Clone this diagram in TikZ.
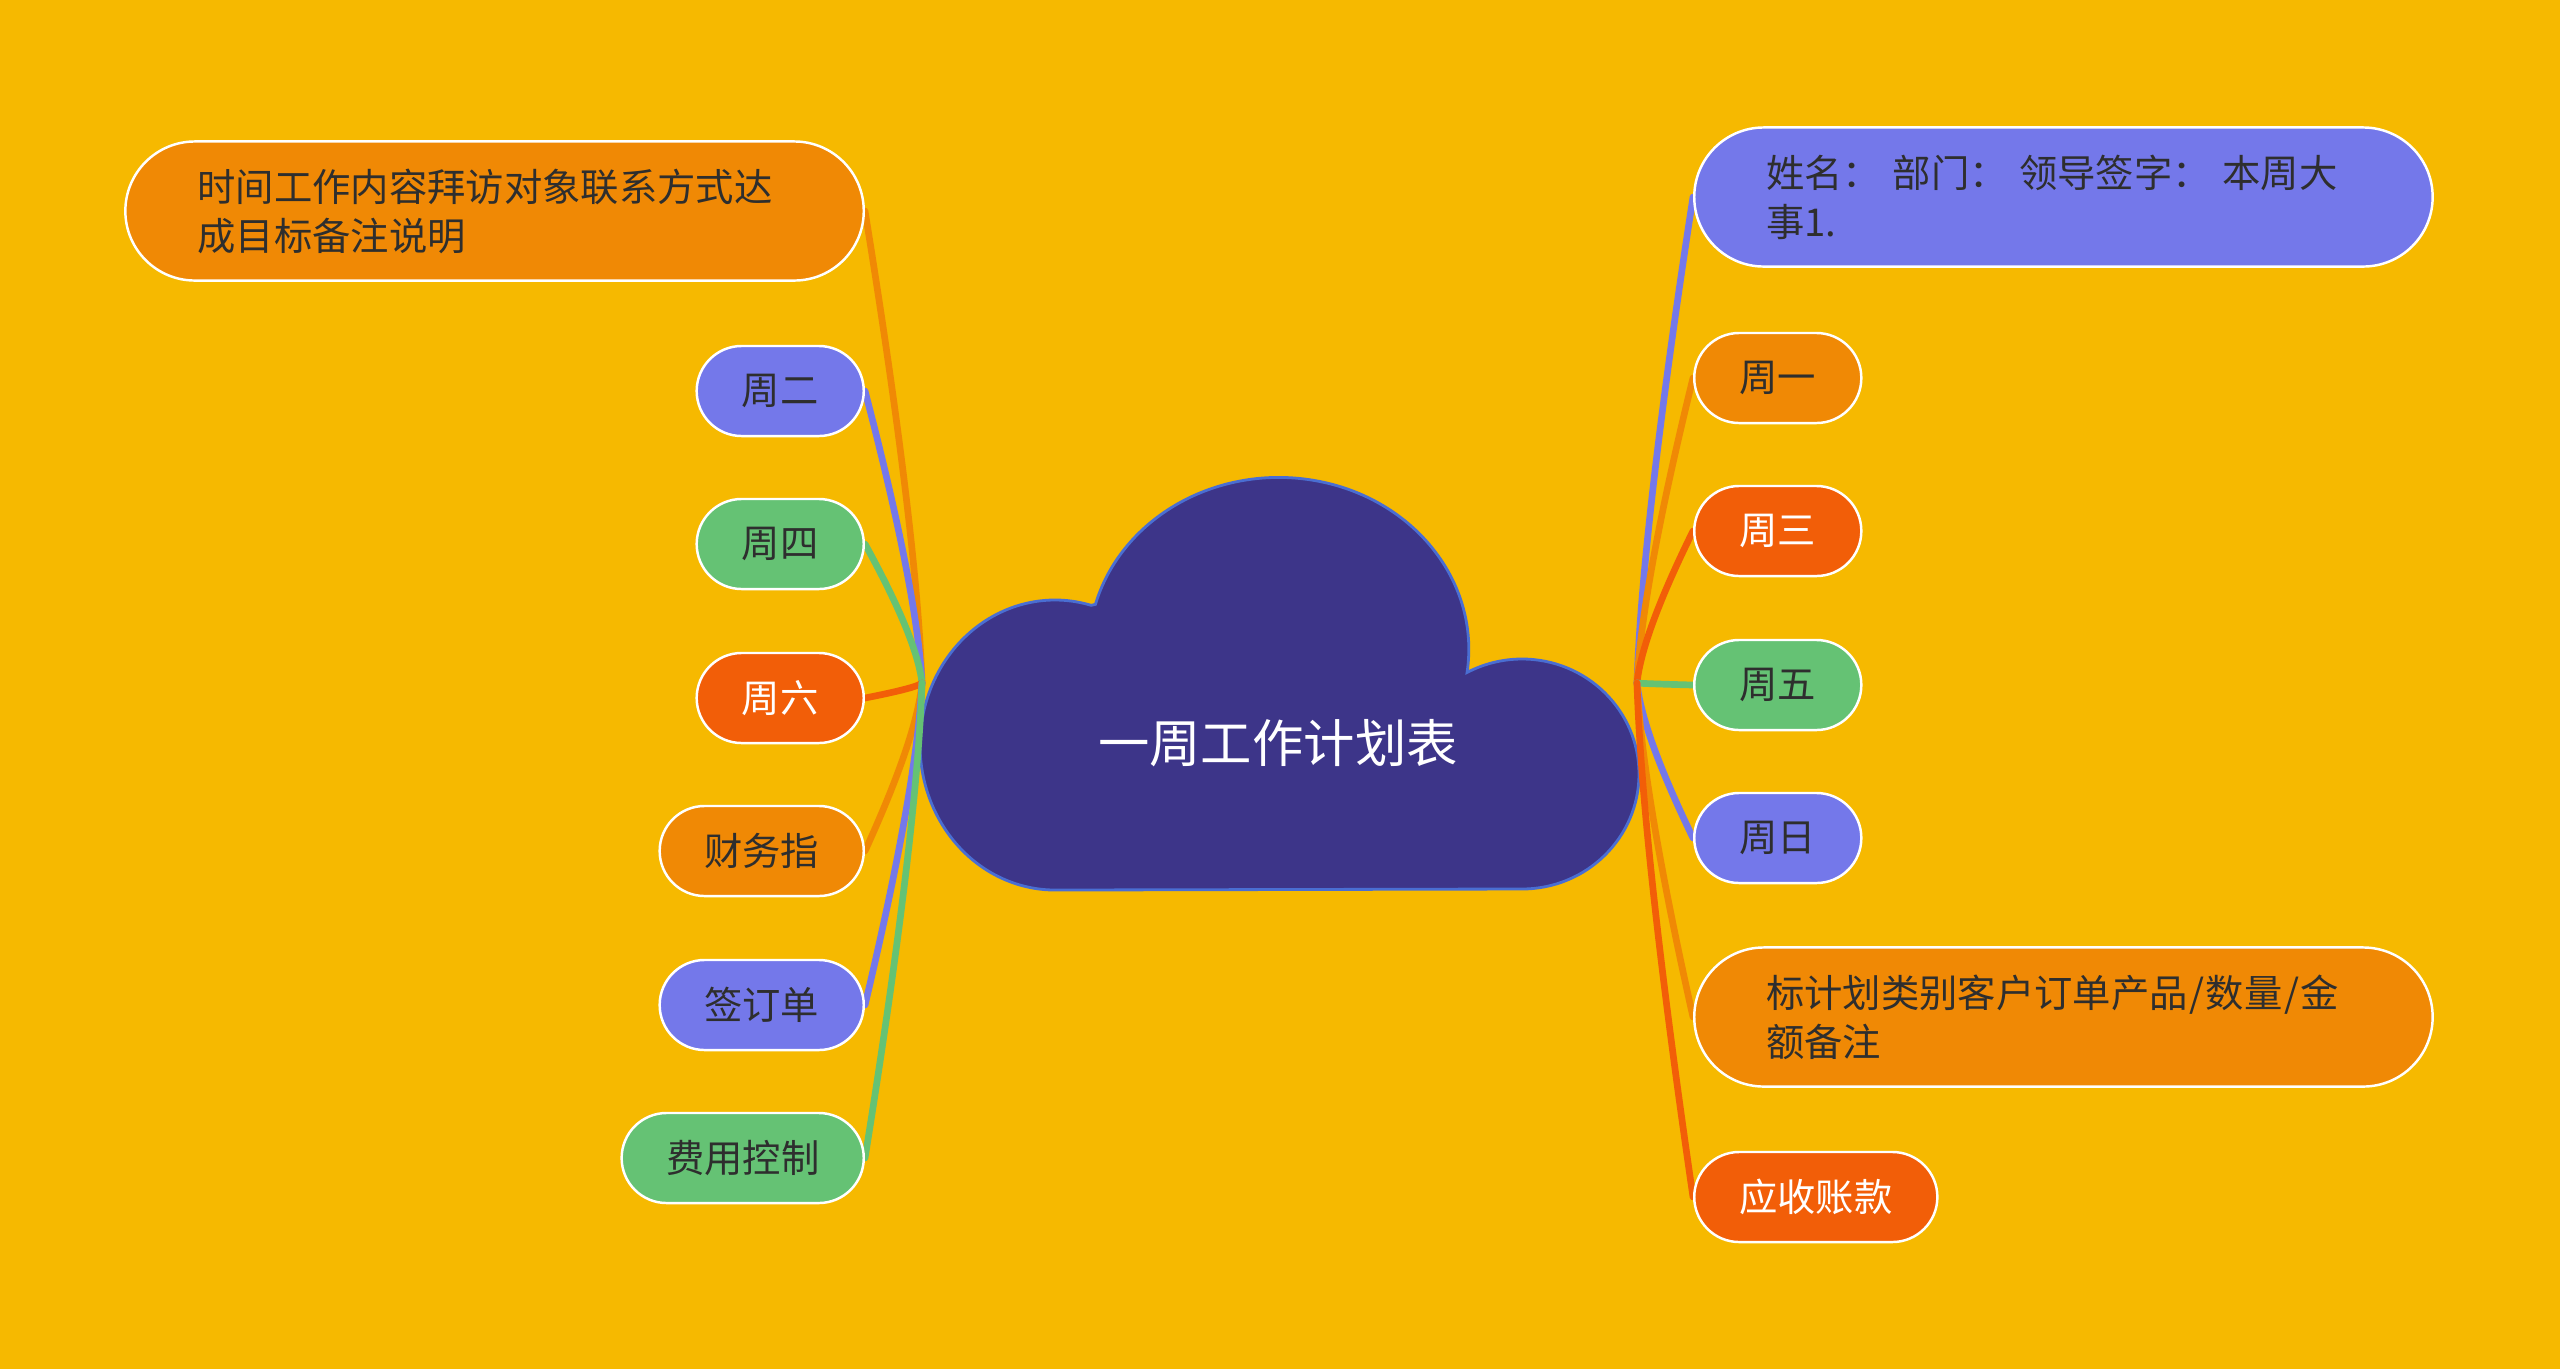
\documentclass[tikz,border=0pt]{standalone}
\usepackage{fontspec}
\setmainfont{Noto Sans CJK SC}
\usetikzlibrary{calc}
\definecolor{bgc}{HTML}{F6B900}
\definecolor{corg}{HTML}{F08905}
\definecolor{cred}{HTML}{F25E08}
\definecolor{cblu}{HTML}{7478EA}
\definecolor{cgrn}{HTML}{65C274}
\definecolor{ccld}{HTML}{3D3589}
\definecolor{ccldb}{HTML}{4A6ED2}
\definecolor{ctxt}{HTML}{2E2E2E}
\pgfdeclarelayer{bgl}
\pgfdeclarelayer{back}
\pgfsetlayers{bgl,back,main}
\newcommand\mylink[4]{%
  \path ($(#2)!0.32!(#2 |- #3)+(#4,0)$) coordinate (cc);
  \draw[conn,#1] (#2) .. controls ($(#2)!0.6667!(cc)$) and ($(#3)!0.6667!(cc)$) .. (#3);}
\begin{document}
\begin{tikzpicture}[x=0.01cm,y=-0.01cm,
  nd/.style={draw=white, line width=0.7pt, rectangle, rounded corners=0.45cm, minimum height=0.9cm, inner xsep=0pt, inner ysep=0pt, text=ctxt, font=\fontsize{10.9}{13.9}\selectfont},
  wt/.style={text=white},
  big/.style={nd, rounded corners=0.695cm, minimum height=1.39cm, text width=5.94cm, inner xsep=0.72cm, align=left},
  conn/.style={line width=1.9pt, line cap=round}]
\begin{pgfonlayer}{bgl}
\fill[bgc] (0,0) rectangle (2560,1369);
\end{pgfonlayer}
\useasboundingbox (0,0) rectangle (2560,1369);

% central cloud
\begin{pgfonlayer}{back}
\draw[fill=ccld, draw=ccldb, line width=0.8pt] (1091.1,605.3)
  arc[start angle=-74.5, end angle=-270, x radius=135, y radius=145]
  -- (1522,889)
  arc[start angle=90, end angle=-118, x radius=117, y radius=115]
  arc[start angle=7.7, end angle=-164.8, x radius=190, y radius=172]
  -- cycle;
\end{pgfonlayer}
\node[text=white, font=\fontsize{14.6}{17}\selectfont] (root) at (1278,743) {一周工作计划表};
\coordinate (hubL) at (922,683);
\coordinate (hubR) at (1637,683);

% left nodes
\node[big, fill=corg, anchor=east] (lbig) at (865,211) {\mbox{时间工作内容拜访对象联系方式达}\\\mbox{成目标备注说明}};
\node[nd, fill=cblu, minimum width=1.67cm, anchor=east] (tue) at (865,391) {周二};
\node[nd, fill=cgrn, minimum width=1.67cm, anchor=east] (thu) at (865,544) {周四};
\node[nd, wt, fill=cred, minimum width=1.67cm, anchor=east] (sat) at (865,698) {周六};
\node[nd, fill=corg, minimum width=2.04cm, anchor=east] (fin) at (865,851) {财务指};
\node[nd, fill=cblu, minimum width=2.04cm, anchor=east] (ord) at (865,1005) {签订单};
\node[nd, fill=cgrn, minimum width=2.42cm, anchor=east] (cost) at (865,1158) {费用控制};

% right nodes
\node[big, fill=cblu, anchor=west] (rbig) at (1693,197) {\mbox{姓名：\hspace{0.3em}部门：\hspace{0.3em}领导签字：\hspace{0.3em}本周大}\\\mbox{事1.}};
\node[nd, fill=corg, minimum width=1.67cm, anchor=west] (mon) at (1693,378) {周一};
\node[nd, wt, fill=cred, minimum width=1.67cm, anchor=west] (wed) at (1693,531) {周三};
\node[nd, fill=cgrn, minimum width=1.67cm, anchor=west] (fri) at (1693,685) {周五};
\node[nd, fill=cblu, minimum width=1.67cm, anchor=west] (sun) at (1693,838) {周日};
\node[big, fill=corg, anchor=west] (rbig2) at (1693,1017) {\mbox{标计划类别客户订单产品\hspace{0.04em}/\hspace{0.04em}数量\hspace{0.04em}/\hspace{0.04em}金}\\\mbox{额备注}};
\node[nd, wt, fill=cred, minimum width=2.43cm, anchor=west] (recv) at (1693,1197) {应收账款};

% connectors
\begin{pgfonlayer}{back}
\mylink{corg}{hubL}{lbig.east}{-5}
\mylink{cblu}{hubL}{tue.east}{-5}
\mylink{cgrn}{hubL}{thu.east}{-5}
\mylink{cred}{hubL}{sat.east}{-5}
\mylink{corg}{hubL}{fin.east}{-5}
\mylink{cblu}{hubL}{ord.east}{-5}
\mylink{cgrn}{hubL}{cost.east}{-5}
\mylink{cblu}{hubR}{rbig.west}{5}
\mylink{corg}{hubR}{mon.west}{5}
\mylink{cred}{hubR}{wed.west}{5}
\mylink{cgrn}{hubR}{fri.west}{5}
\mylink{cblu}{hubR}{sun.west}{5}
\mylink{corg}{hubR}{rbig2.west}{5}
\mylink{cred}{hubR}{recv.west}{5}
\end{pgfonlayer}
\end{tikzpicture}
\end{document}
